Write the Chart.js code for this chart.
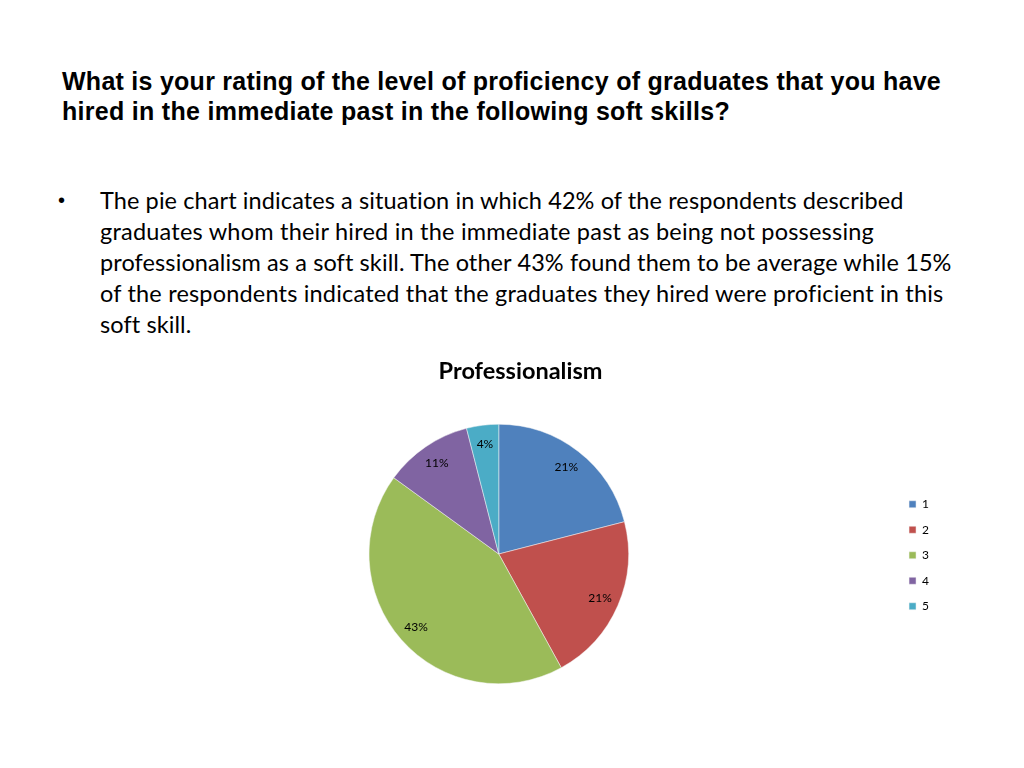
<!DOCTYPE html>
<html>
<head>
<meta charset="utf-8">
<script src="https://cdn.jsdelivr.net/npm/chart.js@4.4.0/dist/chart.umd.min.js"></script>
<style>
  html, body { margin:0; padding:0; background:#fff; width:1024px; height:768px; overflow:hidden; }
  .h { position:absolute; left:62px; font-family:"Liberation Sans", Arial, sans-serif; font-weight:bold; font-size:25px; color:#000; white-space:nowrap; line-height:30px; height:30px; }
  .b { position:absolute; left:100px; font-family:Lato, "Open Sans", sans-serif; font-size:23.5px; color:#000; white-space:nowrap; line-height:30px; height:30px; }
  .bullet { position:absolute; left:58px; top:185px; font-family:"Liberation Sans", Arial; font-size:20px; line-height:30px; }
  #wrap { position:absolute; left:0; top:350px; width:1024px; height:334px; }
</style>
</head>
<body>
<div class="h" data-w="879" style="top:66px">What is your rating of the level of proficiency of graduates that you have</div>
<div class="h" data-w="668" style="top:96px">hired in the immediate past in the following soft skills?</div>
<div class="bullet">•</div>
<div class="b" data-w="804" style="top:185px">The pie chart indicates a situation in which 42% of the respondents described</div>
<div class="b" data-w="774" style="top:216px">graduates whom their hired in the immediate past as being not possessing</div>
<div class="b" data-w="851" style="top:247px">professionalism as a soft skill. The other 43% found them to be average while 15%</div>
<div class="b" data-w="843" style="top:278px">of the respondents indicated that the graduates they hired were proficient in this</div>
<div class="b" id="last" style="top:309px">soft skill.</div>
<div id="wrap"><canvas id="c"></canvas></div>
<script>
const categories = ["1", "2", "3", "4", "5"];
const percentages = [21, 21, 43, 11, 4];
const sliceColors = ["#4F81BD", "#C0504D", "#9BBB59", "#8064A2", "#4BACC6"];
const chartTitle = "Professionalism";

// fit text lines to measured widths
document.querySelectorAll('[data-w]').forEach(el => {
  const target = +el.dataset.w;
  const w = el.getBoundingClientRect().width;
  const n = el.textContent.length;
  el.style.letterSpacing = ((target - w) / n) + 'px';
});
document.getElementById('last').style.letterSpacing = document.querySelector('.b[data-w]').style.letterSpacing;

const labelPlugin = {
  id: 'pctLabels',
  afterDatasetsDraw(chart) {
    const ctx = chart.ctx;
    const meta = chart.getDatasetMeta(0);
    ctx.save();
    ctx.font = '12px Lato, "Open Sans", sans-serif';
    ctx.fillStyle = '#000';
    ctx.textAlign = 'center';
    ctx.textBaseline = 'middle';
    meta.data.forEach((arc, i) => {
      const p = arc.getProps(['x','y','startAngle','endAngle','outerRadius'], true);
      const mid = (p.startAngle + p.endAngle) / 2;
      const r = p.outerRadius * 0.85;
      ctx.fillText(chart.data.datasets[0].data[i] + '%', p.x + Math.cos(mid) * r, p.y + Math.sin(mid) * r);
    });
    ctx.restore();
  }
};

new Chart(document.getElementById('c'), {
  type: 'pie',
  data: {
    labels: categories,
    datasets: [{ data: percentages, backgroundColor: sliceColors, borderColor: '#f4f4f4', borderWidth: 0.5 }]
  },
  options: {
    responsive: true,
    maintainAspectRatio: false,
    animation: false,
    layout: { padding: { left: 102, right: 85, top: 0, bottom: 0 } },
    plugins: {
      title: {
        display: true, text: chartTitle, color: '#000',
        font: { family: 'Lato, "Open Sans", sans-serif', size: 23.5, weight: 'bold', lineHeight: 1.2 },
        padding: { top: 6.9, bottom: 38.9 }
      },
      legend: {
        position: 'right',
        title: { display: true, text: ' ', font: { size: 12 }, padding: { top: 0, bottom: 62.1 } },
        labels: {
          boxWidth: 7, boxHeight: 7, padding: 13.5, color: '#000',
          font: { family: 'Lato, "Open Sans", sans-serif', size: 12 }
        }
      },
      tooltip: { enabled: false }
    }
  },
  plugins: [labelPlugin]
});
</script>
</body>
</html>
